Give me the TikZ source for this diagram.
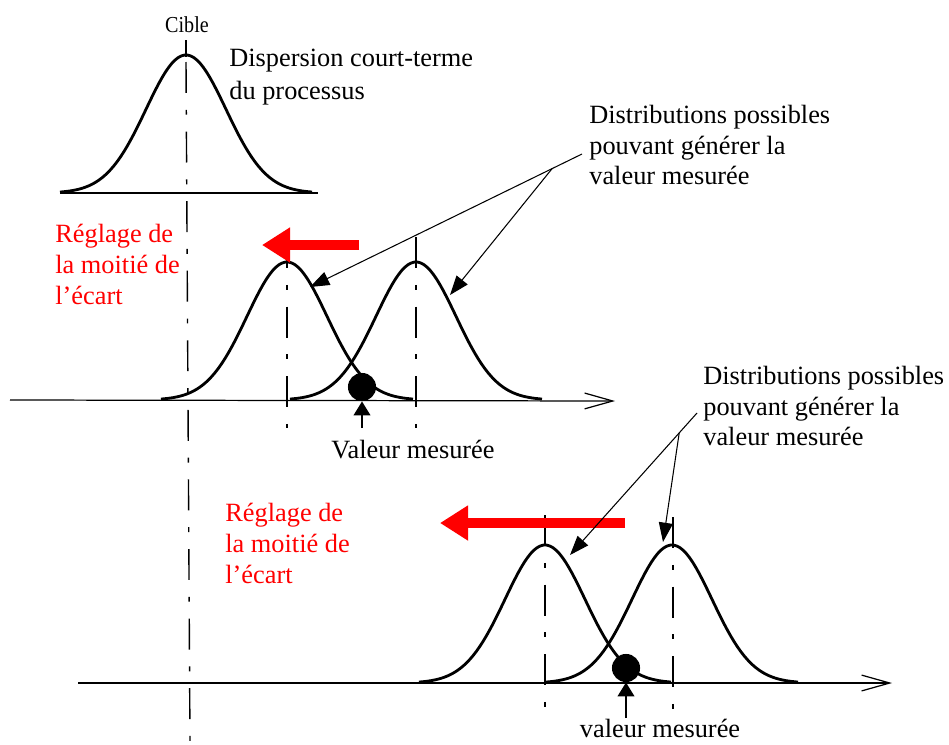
\documentclass[tikz,border=0pt]{standalone}
\usepackage{fontspec}
\setmainfont{Liberation Serif}
\usetikzlibrary{arrows.meta,calc}

\begin{document}
\begin{tikzpicture}[x=0.02cm,y=-0.02cm,
    cloche/.style={line width=1.6pt},
    axe/.style={-{Straight Barb[length=16pt,width=9pt,line width=0.7pt]}},
    axedash/.style={line width=0.8pt,dash pattern=on 17.6pt off 9.6pt on 2.8pt off 9.6pt},
    renvoi/.style={line width=0.6pt,-{Triangle[length=11pt,width=8pt]}},
    monte/.style={line width=1.2pt,-{Triangle[length=8pt,width=9.5pt]}},
    reglage/.style={red,line width=6.2pt,-{Triangle[length=16pt,width=19pt]}},
    texte/.style={inner sep=0pt,align=left,anchor=north west},
    point/.style={circle,fill=black,inner sep=0pt,minimum size=16pt}]
  \useasboundingbox (0,0) rectangle (949,744);

  % courbes
  \foreach \cx/\cy in {186/193,287/400,416/400,545/683,672/683}
    \draw[cloche] plot[domain=-126:126,samples=80] ({\cx+\x},{\cy-138*exp(-0.5*(\x/40)^2)});

  % cible
  \node[anchor=base,font=\fontsize{13}{15}\selectfont] (cible) at (187,32) {\scalebox{.88}[1]{Cible}};
  \draw[line width=0.8pt] (186,40) -- (186,57);
  \draw[axedash] (186,62) -- (190,744);
  \draw[line width=1pt] (60,193) -- (318,193);
  \node[texte,font=\fontsize{15}{18.7}\selectfont] (disp) at (229,49) {Dispersion court-terme\\du processus};

  % premier reglage
  \draw[axe,line width=0.7pt] (10,400) -- (615,401);
  \draw[axedash] (287,237) -- (287,428);
  \draw[axedash] (416,237) -- (416,428);
  \node[point] (pt1) at (362,387) {};
  \node[anchor=base,font=\fontsize{15}{17}\selectfont] (val1) at (413,458) {Valeur mesurée};
  \coordinate (m1) at (362,428);
  \draw[monte] (m1) -- (pt1.south);
  \coordinate (r1a) at (359,245);
  \coordinate (r1b) at (262,245);
  \draw[reglage] (r1a) -- (r1b);
  \node[texte,red,font=\fontsize{15}{17.6}\selectfont] (regl1) at (55,224) {Réglage de\\la moitié de\\l’écart};
  \node[texte,font=\fontsize{15}{17.3}\selectfont] (distr1) at (589,105) {Distributions possibles\\pouvant générer la\\valeur mesurée};
  \coordinate (d1) at (582,154);
  \coordinate (t11) at (310,287);
  \coordinate (t12) at (450,295);
  \draw[renvoi] (d1) -- (t11);
  \draw[renvoi] ($(d1)!0.11!(t11)$) -- (t12);

  % second reglage
  \draw[axe,line width=1.2pt] (78,683) -- (892,683);
  \draw[axedash] (545,515) -- (545,712);
  \draw[axedash] (673,517) -- (673,712);
  \node[point] (pt2) at (626,668) {};
  \node[anchor=base,font=\fontsize{15}{17}\selectfont] (val2) at (660,737) {valeur mesurée};
  \coordinate (m2) at (626,718);
  \draw[monte] (m2) -- (pt2.south);
  \coordinate (r2a) at (625,523);
  \coordinate (r2b) at (440,523);
  \draw[reglage] (r2a) -- (r2b);
  \node[texte,red,font=\fontsize{15}{17.6}\selectfont] (regl2) at (225,503) {Réglage de\\la moitié de\\l’écart};
  \node[texte,font=\fontsize{15}{17.3}\selectfont] (distr2) at (703,366) {Distributions possibles\\pouvant générer la\\valeur mesurée};
  \coordinate (d2) at (697,413);
  \coordinate (t21) at (570,555);
  \coordinate (t22) at (663,542);
  \draw[renvoi] (d2) -- (t21);
  \draw[renvoi] ($(d2)!0.14!(t21)$) -- (t22);
\end{tikzpicture}
\end{document}
